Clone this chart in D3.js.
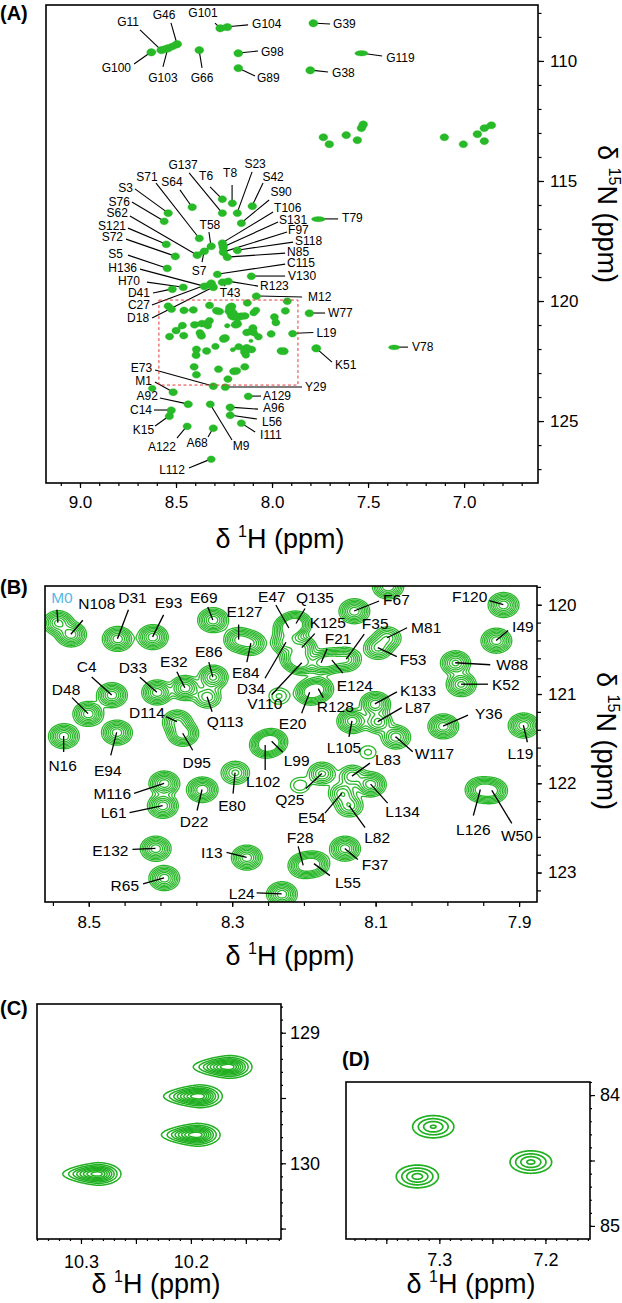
<!DOCTYPE html>
<html>
<head>
<meta charset="utf-8">
<script src="https://cdn.jsdelivr.net/npm/d3@7"></script>
<style>
  body { margin: 0; background: #fff; }
  svg text { font-family: "Liberation Sans", Arial, Helvetica, sans-serif; }
</style>
</head>
<body>
<script>
// ---- peak lists (1H ppm, 15N ppm, relative height) ----
// panel A: peaks outside the zoomed box
const peaksA = [
  ["G100", 8.630, 109.63, 1.6], ["G11", 8.578, 109.54, 1.4], ["", 8.558, 109.50, 0.8],
  ["G103", 8.542, 109.46, 1.4], ["", 8.518, 109.38, 0.9], ["G46", 8.495, 109.29, 1.5],
  ["G101", 8.271, 108.63, 1.5], ["G104", 8.234, 108.58, 1.5], ["G66", 8.380, 109.54, 1.4],
  ["G98", 8.177, 109.67, 1.5], ["G89", 8.177, 110.29, 1.4], ["G39", 7.786, 108.42, 1.5],
  ["G119", 7.536, 109.67, 0.4], ["G38", 7.802, 110.38, 1.6],
  ["", 7.734, 113.17, 1.3], ["", 7.703, 113.46, 1.3], ["", 7.615, 113.08, 1.3],
  ["", 7.557, 113.29, 1.3], ["", 7.536, 112.79, 1.2], ["", 7.526, 112.63, 1.2],
  ["", 7.104, 113.17, 1.2], ["", 7.005, 113.46, 1.1], ["", 6.932, 113.04, 1.3],
  ["", 6.896, 112.79, 1.2], ["", 6.896, 113.33, 1.2], ["", 6.859, 112.67, 1.3],
  ["", 8.625, 123.63, 0.7],
  ["S3", 8.542, 116.33, 1.2], ["S76", 8.563, 116.67, 1.0], ["S62", 8.391, 118.08, 1.2],
  ["S121", 8.552, 117.63, 1.1], ["S72", 8.505, 118.13, 1.2], ["S5", 8.547, 118.63, 1.1],
  ["H136", 8.354, 119.38, 1.2], ["H70", 8.464, 119.42, 1.1], ["D41", 8.521, 119.50, 1.1],
  ["C27", 8.318, 119.25, 1.2], ["D18", 8.307, 119.42, 1.2], ["S71", 8.380, 117.38, 1.1],
  ["S64", 8.417, 116.08, 1.2], ["G137", 8.260, 116.33, 1.1], ["T6", 8.260, 115.75, 1.1],
  ["T8", 8.208, 115.92, 1.1], ["S23", 8.182, 116.33, 1.1], ["S42", 8.104, 116.04, 1.3],
  ["S90", 8.161, 116.75, 1.1], ["T106", 8.260, 117.58, 1.1], ["S131", 8.255, 117.75, 1.1],
  ["F97", 8.255, 117.96, 1.1], ["S118", 8.182, 117.88, 1.1], ["N85", 8.234, 118.17, 1.1],
  ["C115", 8.286, 118.88, 1.0], ["V130", 8.109, 118.96, 1.1], ["R123", 8.229, 119.17, 1.1],
  ["T43", 8.260, 119.21, 1.1], ["M12", 8.083, 119.79, 1.1], ["T58", 8.318, 117.71, 1.2],
  ["S7", 8.354, 117.92, 1.1], ["T79", 7.760, 116.58, 0.35], ["W77", 7.807, 120.50, 1.3],
  ["K51", 7.771, 121.96, 1.8], ["V78", 7.365, 121.92, 0.28], ["Y29", 8.245, 123.58, 1.0],
  ["E73", 8.307, 123.54, 1.1], ["M1", 8.516, 123.79, 1.2], ["A92", 8.438, 124.29, 1.2],
  ["C14", 8.526, 124.54, 1.1], ["K15", 8.536, 124.79, 1.1], ["A122", 8.443, 125.21, 1.0],
  ["A68", 8.307, 125.29, 1.1], ["M9", 8.323, 124.29, 1.0], ["A129", 8.125, 123.96, 1.0],
  ["A96", 8.219, 124.42, 1.2], ["L56", 8.219, 124.75, 1.1], ["I111", 8.161, 125.08, 1.0],
  ["L112", 8.318, 126.58, 0.9]
];
// broad 1H line shape for the weak peaks in A
const wideA = { G119: 2.0, T79: 2.2, V78: 2.0 };

// panel B: crowded central region
const peaksB = [
  ["M0", 8.543, 120.20, 0.9], ["N108", 8.525, 120.33, 1.0], ["D31", 8.460, 120.38, 1.0],
  ["E93", 8.411, 120.36, 1.0], ["E69", 8.327, 120.17, 1.0], ["E127", 8.291, 120.39, 0.9],
  ["E47", 8.221, 120.26, 1.1], ["E84", 8.274, 120.43, 0.8], ["D34", 8.225, 120.42, 0.9],
  ["V110", 8.203, 120.65, 0.8], ["E20", 8.192, 120.98, 1.0], ["R128", 8.180, 120.94, 0.9],
  ["Q135", 8.211, 120.21, 1.0], ["K125", 8.203, 120.48, 0.8], ["F21", 8.176, 120.65, 0.8],
  ["F35", 8.141, 120.61, 0.8], ["E124", 8.161, 120.62, 0.8], ["M81", 8.084, 120.37, 0.6],
  ["F53", 8.097, 120.48, 0.7], ["F67", 8.130, 120.07, 1.0], ["F120", 7.922, 120.00, 1.0],
  ["I49", 7.932, 120.40, 1.0], ["W88", 7.989, 120.65, 0.9], ["K52", 7.981, 120.89, 0.9],
  ["K133", 8.101, 121.11, 1.0], ["L87", 8.097, 121.31, 0.7], ["Y36", 8.006, 121.36, 1.0],
  ["L19", 7.894, 121.35, 1.0], ["W117", 8.072, 121.48, 0.8], ["L105", 8.133, 121.30, 1.0],
  ["L83", 8.133, 121.92, 0.6], ["D95", 8.369, 121.44, 1.1], ["D114", 8.377, 121.31, 0.8],
  ["Q113", 8.335, 121.03, 0.6], ["E86", 8.327, 120.81, 0.9], ["E32", 8.366, 120.93, 1.0],
  ["D33", 8.405, 120.98, 1.0], ["C4", 8.468, 121.01, 1.0], ["D48", 8.501, 121.22, 1.0],
  ["N16", 8.535, 121.47, 1.0], ["E94", 8.461, 121.43, 1.0], ["L99", 8.245, 121.53, 1.1],
  ["L102", 8.254, 121.57, 1.1], ["E80", 8.296, 121.88, 0.7], ["M116", 8.395, 122.00, 1.0],
  ["L61", 8.397, 122.25, 1.0], ["D22", 8.342, 122.07, 1.1], ["E132", 8.407, 122.73, 1.0],
  ["R65", 8.395, 123.06, 1.0], ["I13", 8.280, 122.83, 1.0], ["L24", 8.231, 123.24, 1.0],
  ["F28", 8.201, 122.92, 1.0], ["L55", 8.186, 122.90, 1.0], ["F37", 8.143, 122.73, 1.0],
  ["E54", 8.147, 122.11, 0.6], ["L82", 8.137, 122.25, 0.6], ["L134", 8.107, 122.01, 1.0],
  ["L126", 7.954, 122.07, 1.0], ["W50", 7.938, 122.08, 1.0], ["Q25", 8.175, 121.89, 0.7],
  ["", 8.206, 122.02, 0.22], ["", 8.111, 121.65, 0.17], ["", 8.235, 121.02, 0.25],
  ["", 8.213, 120.60, 0.8]
];
// line widths (ppm, gaussian sigma) shared by A and B
const sigmaH = 0.0098, sigmaN = 0.064;

// panel C (indole region) and D
const peaksC = [[10.166, 129.26, 1.0], [10.193, 129.485, 1.0], [10.195, 129.78, 1.0], [10.285, 130.08, 0.95]];
const shapeC = { sxL: 0.0135, sxR: 0.009, sy: 0.037, taper: 0.12 };
const peaksD = [[7.306, 84.24, 0.95], [7.321, 84.62, 1.0], [7.214, 84.51, 0.97]];
const shapeD = { sxL: 0.0128, sxR: 0.0128, sy: 0.056, taper: 0 };

// ---- ticks ----
const xTickA = [9.0, 8.5, 8.0, 7.5, 7.0], yTickA = [110, 115, 120, 125];
const xTickB = [8.5, 8.3, 8.1, 7.9], yTickB = [120, 121, 122, 123];
const xTickC = [10.3, 10.2], yTickC = [129, 130];
const xTickD = [7.3, 7.2], yTickD = [84, 85];
const boxA = [8.589, 7.865, 119.96, 123.5];

// ---- label layout: [name, line end dx, dy, text dx, dy, anchor] in px from the peak ----
const labelsA = [
  ["G100",-17,12,-20,16,"e"],["G11",-21,-20,-33,-28,"m"],["G46",-6,-21,-13,-29,"m"],
  ["G103",-5,19,-5,30,"m"],["G101",-5,-5,-17,-15,"m"],["G104",21,-2,25,-3,"s"],
  ["G66",3,18,3,28,"m"],["G98",20,-2,23,-1,"s"],["G89",17,8,19,10,"s"],
  ["G39",17,1,20,1,"s"],["G119",21,3,25,5,"s"],["G38",18,2,22,3,"s"],
  ["S3",-33,-24,-35,-25,"e"],["S76",-32,-19,-34,-19,"e"],["S62",-67,-39,-69,-42,"e"],
  ["S121",-38,-16,-40,-18,"e"],["S72",-49,-17,-52,-19,"e"],["S5",-39,-13,-44,-14,"e"],
  ["H136",-64,-17,-67,-18,"e"],["H70",-36,-5,-43,-6,"e"],["D41",-19,4,-22,4,"e"],
  ["C27",-59,22,-61,22,"e"],["D18",-61,31,-64,31,"e"],["S71",-43,-55,-52,-61,"m"],
  ["S64",-12,-17,-20,-25,"m"],["G137",-33,-40,-39,-48,"m"],["T6",-12,-12,-16,-23,"m"],
  ["T8",0,-18,-2,-30,"m"],["S23",15,-41,18,-49,"m"],["S42",11,-23,21,-29,"m"],
  ["S90",28,-23,40,-31,"m"],["T106",51,-31,52,-35,"s"],["S131",55,-25,56,-27,"s"],
  ["F97",64,-20,65,-22,"s"],["S118",56,-8,58,-9,"s"],["N85",58,-4,60,-5,"s"],
  ["C115",68,-10,70,-11,"s"],["V130",34,0,37,0,"s"],["R123",30,5,32,5,"s"],
  ["T43",3,4,8,11,"m"],["M12",46,1,52,1,"s"],["T58",-2,-14,-1,-21,"m"],
  ["S7",-2,11,-5,20,"m"],["T79",20,0,24,-1,"s"],["W77",16,0,19,0,"s"],
  ["L19",21,-1,24,-1,"s"],["K51",16,14,19,17,"s"],["V78",14,0,18,0,"s"],
  ["Y29",77,0,80,0,"s"],["E73",-58,-16,-61,-18,"e"],["M1",-18,-10,-21,-11,"e"],
  ["A92",-28,-6,-30,-8,"e"],["C14",-17,0,-19,0,"e"],["K15",-14,10,-15,14,"e"],
  ["A122",-10,12,-25,21,"m"],["A68",-5,9,-16,15,"m"],["M9",22,36,31,42,"m"],
  ["A129",13,0,15,0,"s"],["A96",28,2,33,1,"s"],["L56",27,4,32,7,"s"],
  ["I111",14,9,19,12,"s"],["L112",-22,9,-26,11,"e"]
];
const labelsB = [
  ["M0",-1,-13,4,-25,"m"],["N108",12,-14,26,-31,"m"],["D31",11,-29,15,-41,"m"],
  ["E93",11,-22,16,-34,"m"],["E69",-5,-13,-9,-22,"m"],["E127",0,-15,6,-28,"m"],
  ["E47",-13,-23,-17,-31,"m"],["E84",-4,19,-5,29,"m"],["D34",-21,36,-35,46,"m"],
  ["V110",-30,32,-37,41,"m"],["E20",-8,21,-17,31,"m"],["R128",5,9,17,18,"m"],
  ["Q135",9,-15,19,-26,"m"],["K125",13,-14,26,-25,"m"],["F21",6,-14,17,-24,"m"],
  ["F35",18,-25,29,-36,"m"],["E124",11,13,23,25,"m"],["M81",20,-10,24,-10,"s"],
  ["F53",19,9,22,12,"s"],["F67",25,-10,29,-11,"s"],["F120",-14,-4,-16,-8,"e"],
  ["I49",12,-10,16,-14,"s"],["W88",35,2,41,2,"s"],["K52",27,0,31,0,"s"],
  ["K133",22,-12,25,-13,"s"],["L87",24,-14,27,-14,"s"],["Y36",25,-11,32,-13,"s"],
  ["L19",4,17,-3,28,"m"],["W117",17,15,19,17,"s"],["L105",-3,16,-8,27,"m"],
  ["L83",18,-13,23,-17,"s"],["D95",10,17,14,29,"m"],["D114",-11,-5,-30,-9,"m"],
  ["Q113",5,15,18,25,"m"],["E86",-4,-15,-4,-25,"m"],["E32",-8,-16,-11,-26,"m"],
  ["D33",-17,-15,-24,-25,"m"],["C4",-20,-18,-25,-28,"m"],["D48",-16,-16,-22,-24,"m"],
  ["N16",0,16,-1,30,"m"],["E94",-6,23,-9,38,"m"],["L99",11,11,25,19,"m"],
  ["L102",0,25,-2,37,"m"],["E80",-2,21,-3,33,"m"],["M116",-30,10,-33,10,"e"],
  ["L61",-33,7,-36,7,"e"],["D22",-5,21,-8,32,"m"],["E132",-23,1,-27,2,"e"],
  ["R65",-21,6,-25,8,"e"],["I13",-20,-5,-24,-5,"e"],["L24",-25,-1,-27,0,"e"],
  ["F28",-5,-19,-3,-28,"m"],["L55",16,12,21,19,"s"],["F37",13,11,17,16,"s"],
  ["E54",-17,20,-30,24,"m"],["L82",16,22,28,32,"m"],["L134",17,19,32,27,"m"],
  ["L126",-7,26,-7,40,"m"],["W50",20,33,25,45,"m"],["Q25",-16,15,-32,26,"m"]
];

const green = "#27b927";
const svg = d3.select("body").append("svg").attr("width", 622).attr("height", 1303);
const defs = svg.append("defs");

function makePanel(id, left, top, w, h, xDom, yDom) {
  const g = svg.append("g").attr("transform", `translate(${left},${top})`);
  defs.append("clipPath").attr("id", "clip" + id).append("rect").attr("width", w).attr("height", h);
  return { id, g, w, h,
    x: d3.scaleLinear().domain(xDom).range([0, w]),
    y: d3.scaleLinear().domain(yDom).range([0, h]) };
}

const asPeak = (d, s) => ({ name: d[0], h: d[1], n: d[2], a: d[3], sxL: s.sxL, sxR: s.sxR, sy: s.sy, taper: s.taper });
const abPeaks = peaksA.map(d => asPeak(d, { sxL: sigmaH * (wideA[d[0]] || 1), sxR: sigmaH * (wideA[d[0]] || 1), sy: sigmaN, taper: 0 }))
  .concat(peaksB.map(d => asPeak(d, { sxL: sigmaH, sxR: sigmaH, sy: sigmaN, taper: 0 })));
const byName = new Map(abPeaks.filter(d => d.name).map(d => [d.name, d]));

// sum of gaussians on a grid, then d3.contours
function drawContours(p, peaks, thresholds, res, pad) {
  const nx = Math.ceil((p.w + 2 * pad) * res), ny = Math.ceil((p.h + 2 * pad) * res);
  const grid = new Float64Array(nx * ny);
  const kx = Math.abs(p.x(1) - p.x(0)) * res, ky = Math.abs(p.y(1) - p.y(0)) * res;
  peaks.forEach(q => {
    const cx = (p.x(q.h) + pad) * res, cy = (p.y(q.n) + pad) * res;
    const sL = q.sxL * kx, sR = q.sxR * kx, sY = q.sy * ky;
    const i0 = Math.max(0, Math.floor(cx - 4 * sL)), i1 = Math.min(nx - 1, Math.ceil(cx + 4 * sR));
    const j0 = Math.max(0, Math.floor(cy - 4 * sY)), j1 = Math.min(ny - 1, Math.ceil(cy + 4 * sY));
    for (let j = j0; j <= j1; j++) {
      const dy = j - cy;
      for (let i = i0; i <= i1; i++) {
        const dx = i - cx;
        const sx = dx < 0 ? sL : sR;
        const sy = dx < 0 ? sY * Math.max(0.5, 1 + q.taper * dx / sL) : sY;
        grid[j * nx + i] += q.a * Math.exp(-0.5 * (dx * dx / (sx * sx) + dy * dy / (sy * sy)));
      }
    }
  });
  const shapes = d3.contours().size([nx, ny]).thresholds(thresholds)(grid);
  const path = d3.geoPath(d3.geoIdentity().scale(1 / res).translate([-pad, -pad]));
  return p.g.append("g").attr("clip-path", `url(#clip${p.id})`)
    .selectAll("path").data(shapes).join("path").attr("d", path);
}

function drawLabels(p, layout, fontSize, gap, lineW) {
  const lg = p.g.append("g");
  const tg = p.g.append("g");
  layout.forEach(([name, ex, ey, tx, ty, anc]) => {
    const q = byName.get(name);
    const px = p.x(q.h), py = p.y(q.n);
    const len = Math.hypot(ex, ey) || 1;
    lg.append("line")
      .attr("x1", px + ex / len * gap).attr("y1", py + ey / len * gap)
      .attr("x2", px + ex).attr("y2", py + ey)
      .attr("stroke", "#000").attr("stroke-width", lineW);
    tg.append("text").attr("x", px + tx).attr("y", py + ty).attr("dy", "0.35em")
      .attr("text-anchor", anc === "s" ? "start" : anc === "e" ? "end" : "middle")
      .attr("font-size", fontSize).attr("fill", name === "M0" ? "#55b9e6" : "#000")
      .text(name);
  });
  return { lg, tg };
}

function drawAxes(p, xt, yt, fs) {
  xt.forEach(t => {
    const a = p.g.append("g").attr("transform", `translate(0,${p.h})`)
      .call(d3.axisBottom(p.x).tickValues(t.v).tickSize(t.len).tickPadding(t.pad || 0)
        .tickFormat(t.fmt ? d3.format(t.fmt) : () => ""));
    a.select(".domain").remove();
    a.attr("font-size", fs).selectAll("line").attr("stroke-width", 1.2);
  });
  yt.forEach(t => {
    const a = p.g.append("g").attr("transform", `translate(${p.w},0)`)
      .call(d3.axisRight(p.y).tickValues(t.v).tickSize(t.len).tickPadding(t.pad || 0)
        .tickFormat(t.fmt ? d3.format(t.fmt) : () => ""));
    a.select(".domain").remove();
    a.attr("font-size", fs).selectAll("line").attr("stroke-width", 1.2);
  });
  p.g.append("rect").attr("width", p.w).attr("height", p.h)
    .attr("fill", "none").attr("stroke", "#000").attr("stroke-width", 1.6);
}

function axisTitle(x, y, rotate, sup, nuc) {
  const t = svg.append("text").attr("transform", `translate(${x},${y})` + (rotate ? " rotate(90)" : ""))
    .attr("text-anchor", "middle").attr("font-size", 27);
  t.append("tspan").text("δ ");
  t.append("tspan").attr("font-size", 16).attr("dy", -11).text(sup);
  t.append("tspan").attr("dy", 11).text(nuc + " (ppm)");
}

function panelLetter(x, y, s) {
  svg.append("text").attr("x", x).attr("y", y).attr("font-size", 20)
    .attr("font-weight", "bold").text(s);
}

// ---------- Panel A ----------
const pA = makePanel("A", 46, 5, 492, 478, [9.177, 6.615], [107.67, 127.58]);
const labA = drawLabels(pA, labelsA, 12, 3, 1.1);
drawContours(pA, abPeaks, [0.09], 2, 10).attr("fill", green).attr("stroke", green).attr("stroke-width", 0.4);
labA.tg.raise();
pA.g.append("rect")
  .attr("x", pA.x(boxA[0])).attr("y", pA.y(boxA[2]))
  .attr("width", pA.x(boxA[1]) - pA.x(boxA[0])).attr("height", pA.y(boxA[3]) - pA.y(boxA[2]))
  .attr("fill", "none").attr("stroke", "#e0393b").attr("stroke-width", 1).attr("stroke-dasharray", "3,2.5");
drawAxes(pA,
  [{ v: d3.range(6.7, 9.15, 0.1), len: 3 }, { v: xTickA, len: 5, pad: 8, fmt: ".1f" }],
  [{ v: d3.range(108, 128, 1), len: 3.5 }, { v: yTickA, len: 6, pad: 6, fmt: "d" }], 17);
axisTitle(280, 548, false, "1", "H");
axisTitle(598, 214, true, "15", "N");
panelLetter(0, 20, "(A)");

// ---------- Panel B ----------
const pB = makePanel("B", 45, 586, 492, 316, [8.561, 7.875], [119.79, 123.33]);
drawContours(pB, abPeaks, [0.09, 0.15, 0.23, 0.33, 0.46, 0.62, 0.8], 2, 20)
  .attr("fill", "none").attr("stroke", "#2cb82c").attr("stroke-width", 1.3);
drawLabels(pB, labelsB, 15.5, 0, 1.3);
drawAxes(pB,
  [{ v: d3.range(7.9, 8.56, 0.05), len: 4 }, { v: xTickB, len: 5, pad: 9, fmt: ".1f" }],
  [{ v: d3.range(119.8, 123.3, 0.2), len: 4 }, { v: yTickB, len: 5, pad: 6, fmt: "d" }], 17);
axisTitle(290, 965, false, "1", "H");
axisTitle(597, 741, true, "15", "N");
panelLetter(0, 594, "(B)");

// ---------- Panel C ----------
const pC = makePanel("C", 37, 1004, 244, 235, [10.34, 10.118], [128.78, 130.58]);
drawContours(pC, peaksC.map(d => asPeak(["", ...d], shapeC)),
  [0.06, 0.14, 0.24, 0.35, 0.47, 0.6, 0.73, 0.86], 2, 20)
  .attr("fill", "none").attr("stroke", "#22b022").attr("stroke-width", 1.5);
drawAxes(pC,
  [{ v: d3.range(10.12, 10.34, 0.01), len: 2 }, { v: [10.25, 10.15], len: 5 }, { v: xTickC, len: 5, pad: 11, fmt: ".1f" }],
  [{ v: d3.range(128.8, 130.58, 0.1), len: 2 }, { v: [129.5, 130.5], len: 5 }, { v: yTickC, len: 5, pad: 4, fmt: "d" }], 18);
axisTitle(156, 1293, false, "1", "H");
panelLetter(0, 1015, "(C)");

// ---------- Panel D ----------
const pD = makePanel("D", 346, 1082, 244, 157, [7.388, 7.158], [83.9, 85.1]);
drawContours(pD, peaksD.map(d => asPeak(["", ...d], shapeD)), [0.3, 0.52, 0.74, 0.93], 2, 20)
  .attr("fill", "none").attr("stroke", "#22b022").attr("stroke-width", 1.7);
drawAxes(pD,
  [{ v: d3.range(7.16, 7.39, 0.01), len: 2 }, { v: [7.35, 7.25], len: 5 }, { v: xTickD, len: 5, pad: 9, fmt: ".1f" }],
  [{ v: d3.range(83.9, 85.1, 0.1), len: 2 }, { v: [84.5], len: 5 }, { v: yTickD, len: 5, pad: 5, fmt: "d" }], 18);
axisTitle(471, 1293, false, "1", "H");
panelLetter(342, 1066, "(D)");
</script>
</body>
</html>
